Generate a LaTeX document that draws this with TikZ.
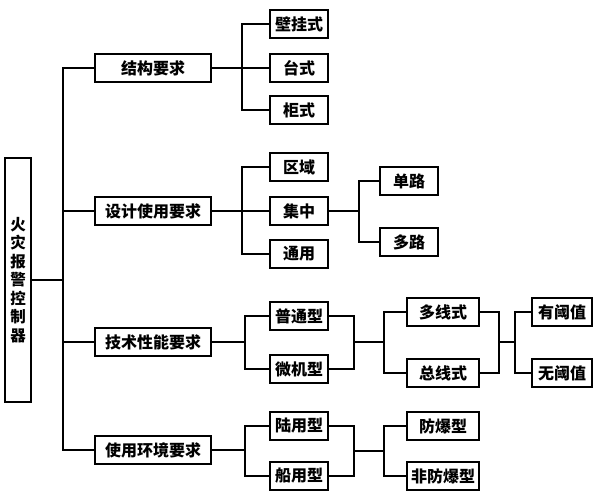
\documentclass[tikz,border=0pt]{standalone}
\usepackage{fontspec}
\newfontfamily\cjk{Noto Sans CJK SC}
\usetikzlibrary{positioning}

\begin{document}
\begin{tikzpicture}[x=1pt,y=-1pt,
  box/.style={draw,line width=1.2pt,minimum height=28pt,inner sep=0pt,
    font=\cjk\bfseries\fontsize{16}{18}\selectfont},
  lvone/.style={box,minimum width=116pt},
  lvtwo/.style={box,minimum width=58pt},
  lvthree/.style={box,minimum width=72pt},
  link/.style={line width=1.2pt}]
  \useasboundingbox (0,0) rectangle (595,500);
  % root and first level
  \node[box,minimum width=26pt,minimum height=244pt,align=center,
    font=\cjk\bfseries\fontsize{15.5}{18.5}\selectfont] (root) at (18,280) {火\\灾\\报\\警\\控\\制\\器};
  \node[lvone] (jg) at (153,68) {结构要求};
  \node[lvone] (sj) at (153,211) {设计使用要求};
  \node[lvone] (js) at (153,342) {技术性能要求};
  \node[lvone] (hj) at (153,450) {使用环境要求};
  % second level
  \node[lvtwo] (bg) at (299,24) {壁挂式};
  \node[lvtwo] (ts) at (299,68) {台式};
  \node[lvtwo] (gs) at (299,110) {柜式};
  \node[lvtwo] (qy) at (299,167) {区域};
  \node[lvtwo] (jz) at (299,211) {集中};
  \node[lvtwo] (ty) at (299,254) {通用};
  \node[lvtwo] (pt) at (299,316) {普通型};
  \node[lvtwo] (wj) at (299,369) {微机型};
  \node[lvtwo] (ly) at (299,426) {陆用型};
  \node[lvtwo] (cy) at (299,476) {船用型};
  % third and fourth level
  \node[lvtwo] (dan) at (409,181) {单路};
  \node[lvtwo] (duo) at (409,242) {多路};
  \node[lvthree] (dx) at (443,312) {多线式};
  \node[lvthree] (zx) at (443,373) {总线式};
  \node[lvthree] (fb) at (443,426) {防爆型};
  \node[lvthree] (ffb) at (443,476) {非防爆型};
  \node[box,minimum width=60pt] (yf) at (562,312) {有阈值};
  \node[box,minimum width=60pt] (wf) at (562,373) {无阈值};
  % branch points
  \coordinate (t) at (63,280);
  \coordinate (b1) at (242,68);
  \coordinate (b2) at (242,211);
  \coordinate (b3) at (359,211);
  \coordinate (b4) at (245,342);
  \coordinate (b5) at (354,342);
  \coordinate (b6) at (384,342);
  \coordinate (b7) at (499,342);
  \coordinate (b8) at (515,342);
  \coordinate (b9) at (245,450);
  \coordinate (b10) at (354,451);
  \coordinate (b11) at (384,451);
  % connectors
  \draw[link] (root.east) -- (t);
  \foreach \n in {jg,sj,js,hj} \draw[link] (\n.west) -| (t);
  \draw[link] (jg.east) -- (b1);
  \foreach \n in {bg,ts,gs} \draw[link] (\n.west) -| (b1);
  \draw[link] (sj.east) -- (b2);
  \foreach \n in {qy,jz,ty} \draw[link] (\n.west) -| (b2);
  \draw[link] (jz.east) -- (b3);
  \foreach \n in {dan,duo} \draw[link] (\n.west) -| (b3);
  \draw[link] (js.east) -- (b4);
  \foreach \n in {pt,wj} {
    \draw[link] (\n.west) -| (b4);
    \draw[link] (\n.east) -| (b5);
  }
  \draw[link] (b5) -- (b6);
  \foreach \n in {dx,zx} {
    \draw[link] (\n.west) -| (b6);
    \draw[link] (\n.east) -| (b7);
  }
  \draw[link] (b7) -- (b8);
  \foreach \n in {yf,wf} \draw[link] (\n.west) -| (b8);
  \draw[link] (hj.east) -- (b9);
  \foreach \n in {ly,cy} {
    \draw[link] (\n.west) -| (b9);
    \draw[link] (\n.east) -| (b10);
  }
  \draw[link] (b10) -- (b11);
  \foreach \n in {fb,ffb} \draw[link] (\n.west) -| (b11);
\end{tikzpicture}
\end{document}
